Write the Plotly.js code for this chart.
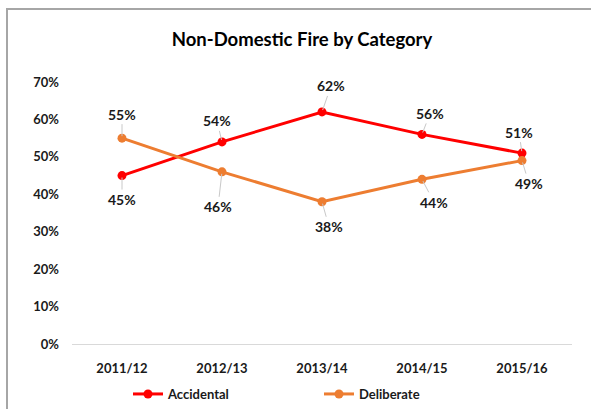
<!DOCTYPE html>
<html>
<head>
<meta charset="utf-8">
<script src="https://cdn.plot.ly/plotly-3.0.1.min.js"></script>
<style>
html,body{margin:0;padding:0;background:#fff;}
#wrap{position:relative;width:591px;height:409px;overflow:hidden;}
#chart{position:absolute;left:0;top:0;width:591px;height:409px;}
#frame{position:absolute;left:6px;top:8px;width:600px;height:420px;border-left:2px solid #a6a6a6;border-top:2px solid #a6a6a6;pointer-events:none;}
</style>
</head>
<body>
<div id="wrap"><div id="chart"></div><div id="frame"></div></div>
<script>
const categories = ["2011/12", "2012/13", "2013/14", "2014/15", "2015/16"];
const accidental = [0.45, 0.54, 0.62, 0.56, 0.51];
const deliberate = [0.55, 0.46, 0.38, 0.44, 0.49];
const yTicks = [0, 0.1, 0.2, 0.3, 0.4, 0.5, 0.6, 0.7];

// label offsets (pixels) for data labels
const accOffsets = [[0, 24], [-5, -21], [9, -26], [8, -21], [-3, -21]];
const delOffsets = [[0, -24], [-4, 35], [7, 25], [12, 23], [7, 23]];

const FONT = "Lato, 'Open Sans', sans-serif";

function mkTrace(name, vals, color) {
  return {
    type: 'scatter', mode: 'lines+markers', name: name,
    x: categories, y: vals,
    line: {color: color, width: 3},
    marker: {color: color, size: 9},
    hoverinfo: 'skip'
  };
}

const annotations = [];
function addLabels(vals, offs) {
  vals.forEach((v, i) => {
    annotations.push({
      x: categories[i], y: v, xref: 'x', yref: 'y',
      text: Math.round(v * 100) + '%',
      showarrow: true, arrowhead: 0, arrowwidth: 1, arrowcolor: '#c8c8c8',
      ax: offs[i][0], ay: offs[i][1], standoff: 2,
      font: {family: FONT, size: 14, color: '#1a1a1a', weight: 'bold'}
    });
  });
}
addLabels(accidental, accOffsets);
addLabels(deliberate, delOffsets);

const layout = {
  width: 591, height: 409,
  margin: {l: 72, r: 19, t: 82, b: 65},
  paper_bgcolor: '#fff', plot_bgcolor: '#fff',
  showlegend: true,
  title: {
    text: 'Non-Domestic Fire by Category',
    x: 302 / 591, xref: 'container', xanchor: 'center',
    y: 1 - 40 / 409, yref: 'container', yanchor: 'middle',
    font: {family: FONT, size: 18.5, color: '#000', weight: 'bold'}
  },
  xaxis: {
    type: 'category', range: [-0.5, 4.5], showgrid: false, zeroline: false,
    showline: false, ticks: '', automargin: false,
    tickfont: {family: FONT, size: 13, color: '#1a1a1a', weight: 'bold'},
    ticklabelstandoff: 15, fixedrange: true
  },
  yaxis: {
    range: [0, 0.7], tickvals: yTicks, tickformat: '.0%',
    showgrid: false, zeroline: true, zerolinecolor: '#d9d9d9', zerolinewidth: 1,
    showline: false, ticks: '', automargin: false,
    tickfont: {family: FONT, size: 13, color: '#1a1a1a', weight: 'bold'},
    ticklabelstandoff: 12, fixedrange: true
  },
  legend: {
    orientation: 'h', x: 128 / 591, xref: 'container', xanchor: 'left',
    y: 1 - 394 / 409, yref: 'container', yanchor: 'middle',
    entrywidth: 146, entrywidthmode: 'pixels',
    font: {family: FONT, size: 13, color: '#1a1a1a', weight: 'bold'}
  },
  annotations: annotations
};

Plotly.newPlot('chart', [mkTrace('Accidental', accidental, '#ff0000'), mkTrace('Deliberate', deliberate, '#ed7d31')], layout, {staticPlot: true, displayModeBar: false});
</script>
</body>
</html>
